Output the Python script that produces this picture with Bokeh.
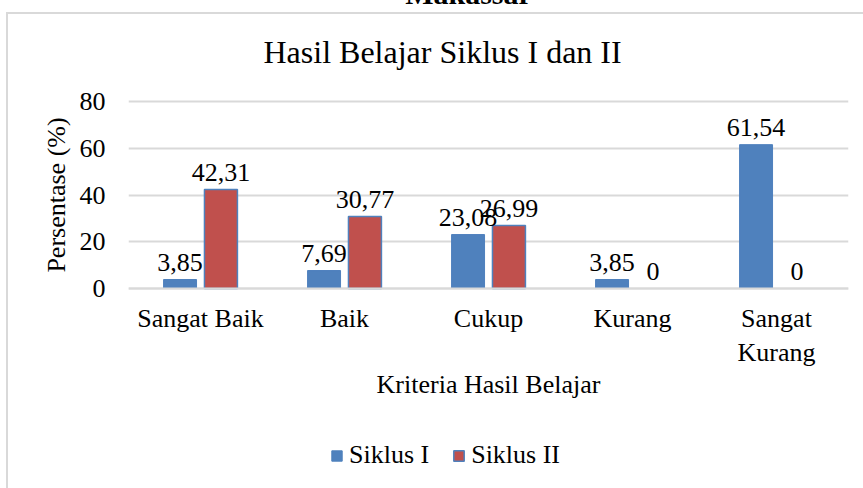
from bokeh.plotting import figure
from bokeh.models import (FactorRange, Range1d, ColumnDataSource, Legend, LegendItem,
                          FixedTicker, Label)
from bokeh.transform import dodge
from bokeh.core.properties import value
from bokeh.embed import file_html
from bokeh.resources import INLINE

# ---- data ----
categories = ["Sangat Baik", "Baik", "Cukup", "Kurang", "Sangat\nKurang"]
siklus1 = [3.85, 7.69, 23.08, 3.85, 61.54]
siklus2 = [42.31, 30.77, 26.99, 0, 0]
y_ticks = [0, 20, 40, 60, 80]
series_names = ["Siklus I", "Siklus II"]
chart_title = "Hasil Belajar Siklus I dan II"
page_heading = "Makassar"
x_title = "Kriteria Hasil Belajar"
y_title = "Persentase (%)"

FONT = "Liberation Serif"
BLUE = "#4f81bd"
RED = "#c0504d"
GRID = "#d9d9d9"

# ---- layout (page pixels) ----
PAGE_H = 488
PLOT_TOP = 101    # page y of the 80 line
PLOT_ZERO = 288   # page y of the 0 line
Y_MAX = 80
PX_PER_UNIT = (PLOT_ZERO - PLOT_TOP) / Y_MAX
# the frame is centred on the 0..80 band (so the y-axis title is centred on it)
# and runs to the page bottom (so axis texts and legend sit inside it)
FRAME_TOP = (PLOT_TOP + PLOT_ZERO) - PAGE_H   # page y (above the page)
TOP = int(round(-FRAME_TOP))
Y_HI = Y_MAX + (PLOT_TOP - FRAME_TOP) / PX_PER_UNIT
Y_LO = -(PAGE_H - PLOT_ZERO) / PX_PER_UNIT
FRAME_LEFT = 128


def fmt(v):
    return "0" if v == 0 else f"{v:.2f}".replace(".", ",")


src = ColumnDataSource(dict(
    cat=categories,
    s1=siklus1,
    s2=siklus2,
    l1=[fmt(v) for v in siklus1],
    l2=[fmt(v) for v in siklus2],
    a2=[1.0 if v > 0 else 0.0 for v in siklus2],
))

box_css = {
    "margin-top": f"-{TOP}px",
    "background-image": f"linear-gradient({GRID},{GRID}), linear-gradient({GRID},{GRID})",
    "background-size": "100% 2px, 2px 100%",
    "background-position": f"6px {TOP + 12}px, 6px {TOP + 12}px",
    "background-repeat": "no-repeat",
}

p = figure(x_range=FactorRange(*categories), y_range=Range1d(Y_LO, Y_HI),
           width=863, height=PAGE_H + TOP, output_backend="svg", toolbar_location=None,
           min_border_left=FRAME_LEFT, min_border_right=15, min_border_top=0,
           min_border_bottom=0, styles=box_css, title=None)
p.border_fill_color = None
p.background_fill_color = None

OFF = 0.142
W = 0.229
r1 = p.vbar(x=dodge("cat", -OFF, range=p.x_range), top="s1", width=W, source=src,
            fill_color=BLUE, line_color=BLUE, line_width=1)
r2 = p.vbar(x=dodge("cat", OFF, range=p.x_range), top="s2", width=W, source=src,
            fill_color=RED, line_color=BLUE, line_alpha="a2", line_width=1.5)

for col, lab, off in (("s1", "l1", -OFF), ("s2", "l2", OFF)):
    p.text(x=dodge("cat", off, range=p.x_range), y=col, text=lab, source=src,
           text_font=value(FONT), text_font_size="26px", text_align="center",
           text_baseline="alphabetic", y_offset=-17, text_color="black")

# chart title and the cut-off page heading (screen units from the frame's bottom-left)
p.add_layout(Label(x=135, y=PAGE_H - 51, x_units="screen", y_units="screen",
                   text=chart_title, text_font=FONT, text_font_size="32px",
                   text_align="left", text_baseline="alphabetic", text_color="black"))
p.add_layout(Label(x=468 - FRAME_LEFT, y=PAGE_H + 7, x_units="screen", y_units="screen",
                   text=page_heading, text_font=FONT, text_font_size="30px",
                   text_font_style="bold", text_align="center",
                   text_baseline="alphabetic", text_color="black"))

# axes
for ax in (p.xaxis, p.yaxis):
    ax.major_tick_line_color = None
    ax.minor_tick_line_color = None
    ax.major_tick_out = 0
    ax.major_tick_in = 0
    ax.major_label_text_font = FONT
    ax.major_label_text_font_size = "26px"
    ax.major_label_text_color = "black"
    ax.axis_label_text_font = FONT
    ax.axis_label_text_font_size = "26px"
    ax.axis_label_text_font_style = "normal"
    ax.axis_label_text_color = "black"

p.xaxis.fixed_location = 0
p.xaxis.axis_line_color = GRID
p.xaxis.axis_line_width = 2
p.xaxis.major_label_standoff = 15
p.xaxis.axis_label = x_title
p.xaxis.axis_label_standoff = 0

p.yaxis.axis_line_color = None
p.yaxis.ticker = FixedTicker(ticks=y_ticks)
p.yaxis.major_label_standoff = 23
p.yaxis.axis_label = y_title
p.yaxis.axis_label_standoff = 6

p.ygrid.ticker = FixedTicker(ticks=y_ticks)
p.ygrid.grid_line_color = GRID
p.ygrid.grid_line_width = 2
p.xgrid.grid_line_color = None
p.outline_line_color = None

legend = Legend(items=[LegendItem(label=series_names[0], renderers=[r1]),
                       LegendItem(label=series_names[1], renderers=[r2])],
                orientation="horizontal", location=(202, 18),
                glyph_width=13, glyph_height=13, label_standoff=6, spacing=23,
                padding=0, margin=0, border_line_color=None,
                background_fill_alpha=0, label_text_font=FONT,
                label_text_font_size="26px", label_text_color="black")
p.add_layout(legend, "center")

open("out.html", "w").write(file_html(p, INLINE))
